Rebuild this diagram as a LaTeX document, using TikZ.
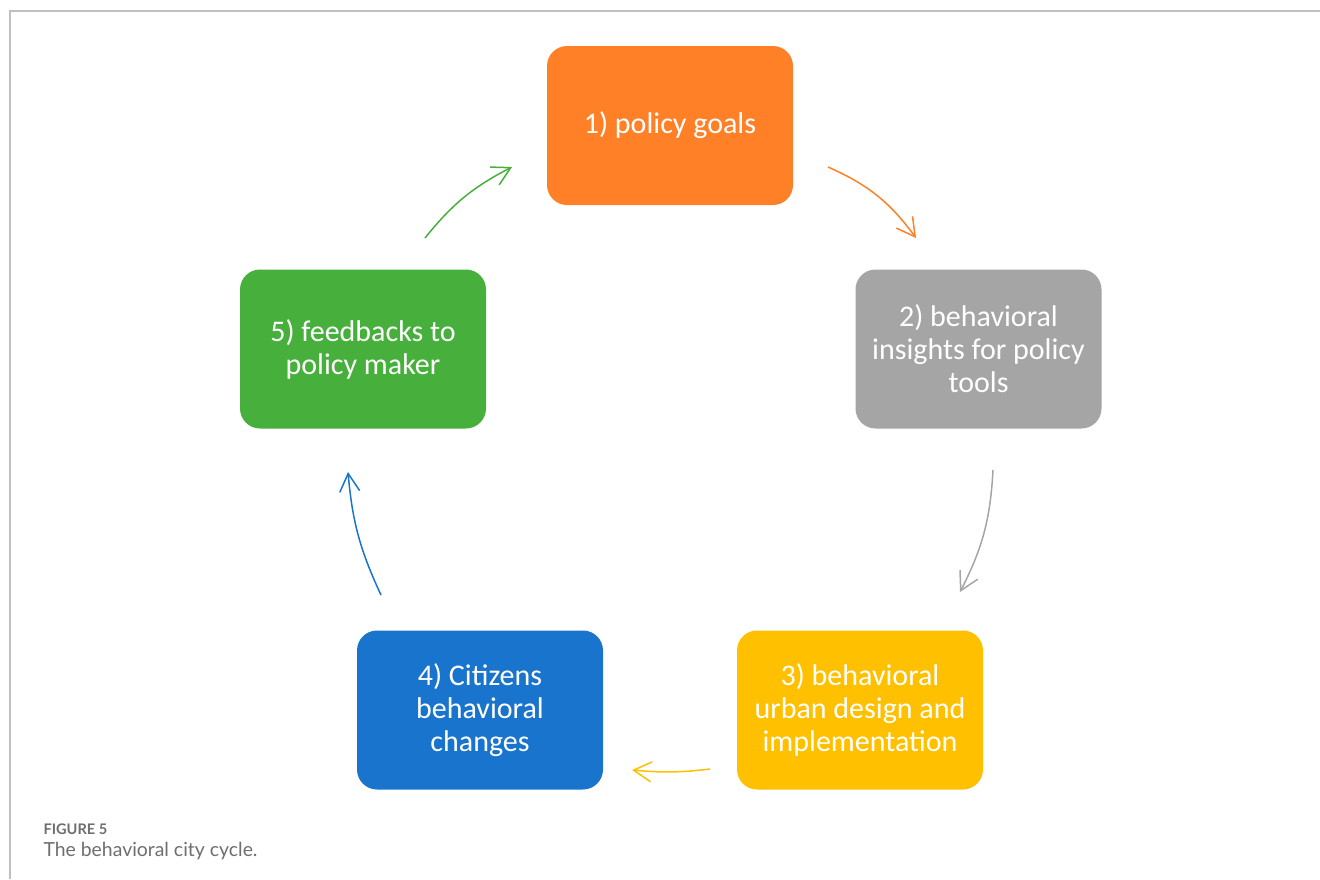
\documentclass[tikz,border=0pt]{standalone}
\usepackage{fontspec}
\setmainfont{Carlito}
\newfontfamily\capfont{Lato}
\usetikzlibrary{arrows.meta}
\definecolor{cOrange}{RGB}{255,128,38}
\definecolor{cGray}{RGB}{165,165,165}
\definecolor{cYellow}{RGB}{255,192,0}
\definecolor{cBlue}{RGB}{24,116,204}
\definecolor{cGreen}{RGB}{71,176,61}
\definecolor{frameGray}{RGB}{192,192,192}
\definecolor{capGray}{RGB}{110,110,110}
\begin{document}
\begin{tikzpicture}[x=1pt,y=-1pt,
  stage/.style={rounded corners=20pt, minimum width=246pt, minimum height=159pt,
    inner sep=0pt, text=white, align=center, font=\fontsize{30}{33}\selectfont},
  flow/.style={line width=1.5pt, -{Straight Barb[length=18pt,width=20pt]}},
  captitle/.style={anchor=west, text=capGray, font=\capfont\bfseries\fontsize{14.6}{16}\selectfont},
  captext/.style={anchor=west, text=capGray, font=\capfont\fontsize{19.4}{22}\selectfont}]
\useasboundingbox (0,0) rectangle (1320,879);

% page frame
\draw[frameGray, line width=1.5pt] (10,879) -- (10,11) -- (1320,11);

% the five stages
\node[stage, fill=cOrange] (s1) at (670,125.5) {1) policy goals};
\node[stage, fill=cGray]   (s2) at (978.5,349) {2) behavioral\\insights for policy\\tools};
\node[stage, fill=cYellow] (s3) at (860,710) {3) behavioral\\urban design and\\implementation};
\node[stage, fill=cBlue]   (s4) at (480,710) {4) Citizens\\behavioral\\changes};
\node[stage, fill=cGreen]  (s5) at (363,349) {5) feedbacks to\\policy maker};

% arrow end points
\coordinate (a1s) at (828,167);  \coordinate (a1e) at (916,238);
\coordinate (a2s) at (993,470);  \coordinate (a2e) at (960,592);
\coordinate (a3s) at (710,769);  \coordinate (a3e) at (632,770);
\coordinate (a4s) at (381,595);  \coordinate (a4e) at (348,472);
\coordinate (a5s) at (425,238);  \coordinate (a5e) at (512,167);

\draw[flow, cOrange] (a1s) to[bend left=15] (a1e);
\draw[flow, cGray]   (a2s) to[bend left=12] (a2e);
\draw[flow, cYellow] (a3s) to[bend left=6]  (a3e);
\draw[flow, cBlue]   (a4s) to[bend left=10] (a4e);
\draw[flow, cGreen]  (a5s) to[bend left=12] (a5e);

% caption
\node[captitle] (cap1) at (40,829) {FIGURE 5};
\node[captext]  (cap2) at (40,851) {The behavioral city cycle.};
\end{tikzpicture}
\end{document}
